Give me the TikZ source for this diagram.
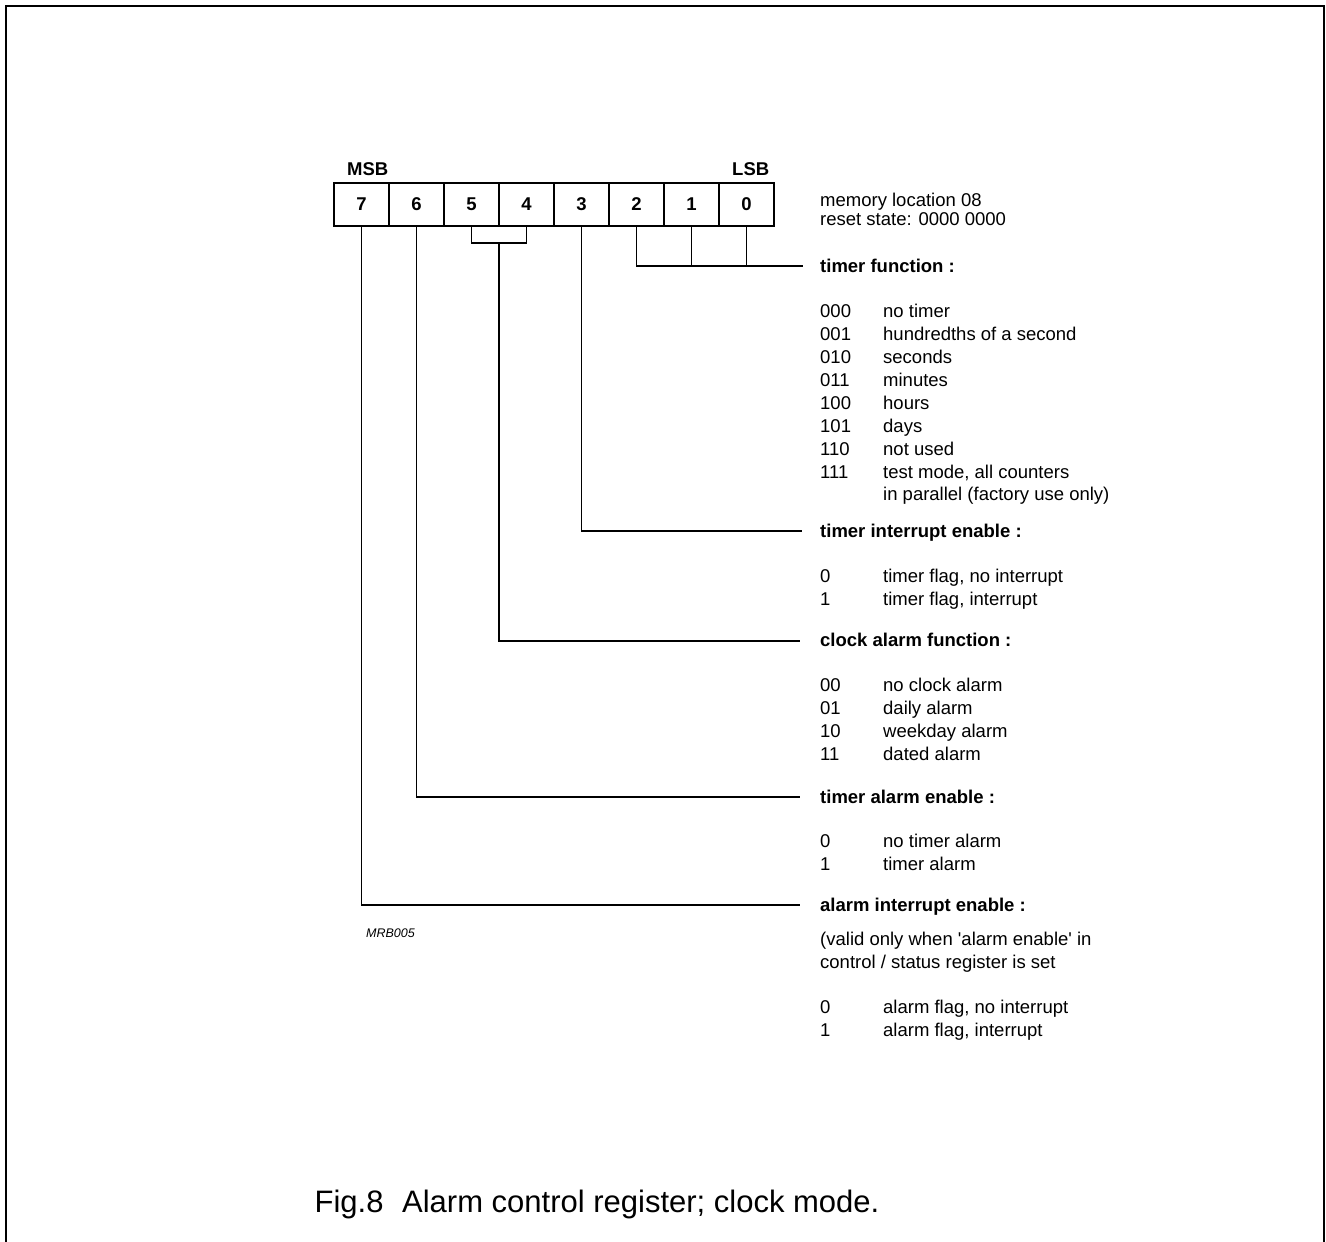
\documentclass[tikz,border=0pt]{standalone}
\usepackage{fontspec}
\setmainfont{Liberation Sans}
\usetikzlibrary{positioning}
\usetikzlibrary{calc}
\tikzset{%
  bit/.style = {rectangle,draw,line width=1.2pt,minimum width=55pt,
        minimum height=43pt,inner sep=0pt,
        font=\fontsize{18.5}{22}\selectfont\bfseries},
  lead/.style = {line width=1.1pt},
  head/.style = {anchor=base west,inner sep=0pt,
        font=\fontsize{18.5}{23}\selectfont\bfseries},
  txt/.style = {anchor=base west,inner sep=0pt,
        font=\fontsize{18.5}{23}\selectfont}
}

\begin{document}
\begin{tikzpicture}[x=1pt,y=-1pt]
\useasboundingbox (0,0) rectangle (1326,1242);
\draw[line width=2pt] (5.5,1242) -- (5.5,6) -- (1324,6) -- (1324,1242);

% register cells
\foreach \b [count=\i from 0] in {7,6,5,4,3,2,1,0}
    \node[bit] (b\b) at ({361.5+55*\i},204.5) {\b};
\node[head] (msb) at (347,175) {MSB};
\node[head] (lsb) at (732,175) {LSB};
\node[txt] (mem) at (820,206) {memory location 08};
\node[txt] (rst) at (820,225) {reset state: 0000 0000};

% leads
\coordinate (tf) at (803,266);
\coordinate (ti) at (802,531);
\coordinate (br) at (499,243);
\coordinate (ca) at (800,641);
\coordinate (ta) at (800,797);
\coordinate (ai) at (800,905);
\draw[lead] (b2.south) |- (tf);
\draw[lead] (b1.south) -- (b1.south |- tf);
\draw[lead] (b0.south) -- (b0.south |- tf);
\draw[lead] (b3.south) |- (ti);
\draw[lead] (b5.south) |- (br) -| (b4.south);
\draw[lead] (br) |- (ca);
\draw[lead] (b6.south) |- (ta);
\draw[lead] (b7.south) |- (ai);

% timer function
\node[head] (tfh) at (820,272) {timer function :};
\foreach \c/\d [count=\k from 0] in {000/no timer,001/hundredths of a second,
        010/seconds,011/minutes,100/hours,101/days,110/not used,
        {111/test mode, all counters}}
{
    \node[txt] (tfc\k) at (820,{317+23*\k}) {\c};
    \node[txt] (tfd\k) at (883,{317+23*\k}) {\d};
}
\node[txt] (tfd8) at (883,500) {in parallel (factory use only)};

% timer interrupt enable
\node[head] (tih) at (820,537) {timer interrupt enable :};
\foreach \c/\d [count=\k from 0] in {0/{timer flag, no interrupt},1/{timer flag, interrupt}}
{
    \node[txt] (tic\k) at (820,{582+23*\k}) {\c};
    \node[txt] (tid\k) at (883,{582+23*\k}) {\d};
}

% clock alarm function
\node[head] (cah) at (820,646) {clock alarm function :};
\foreach \c/\d [count=\k from 0] in {00/no clock alarm,01/daily alarm,
        10/weekday alarm,11/dated alarm}
{
    \node[txt] (cac\k) at (820,{691+23*\k}) {\c};
    \node[txt] (cad\k) at (883,{691+23*\k}) {\d};
}

% timer alarm enable
\node[head] (tah) at (820,803) {timer alarm enable :};
\foreach \c/\d [count=\k from 0] in {0/no timer alarm,1/timer alarm}
{
    \node[txt] (tac\k) at (820,{847+23*\k}) {\c};
    \node[txt] (tad\k) at (883,{847+23*\k}) {\d};
}

% alarm interrupt enable
\node[head] (aih) at (820,911) {alarm interrupt enable :};
\node[txt] (ain1) at (820,945) {(valid only when \textquotesingle alarm enable\textquotesingle\ in};
\node[txt] (ain2) at (820,968) {control / status register is set};
\foreach \c/\d [count=\k from 0] in {0/{alarm flag, no interrupt},1/{alarm flag, interrupt}}
{
    \node[txt] (aic\k) at (820,{1013+23*\k}) {\c};
    \node[txt] (aid\k) at (883,{1013+23*\k}) {\d};
}

\node[txt,font=\fontsize{12.5}{15}\selectfont\itshape] (code) at (366,937) {MRB005};
\node[anchor=base,inner sep=0pt,font=\fontsize{31}{36}\selectfont] (cap) at (597,1212)
    {Fig.8\hspace{0.6em}Alarm control register; clock mode.};
\end{tikzpicture}
\end{document}
